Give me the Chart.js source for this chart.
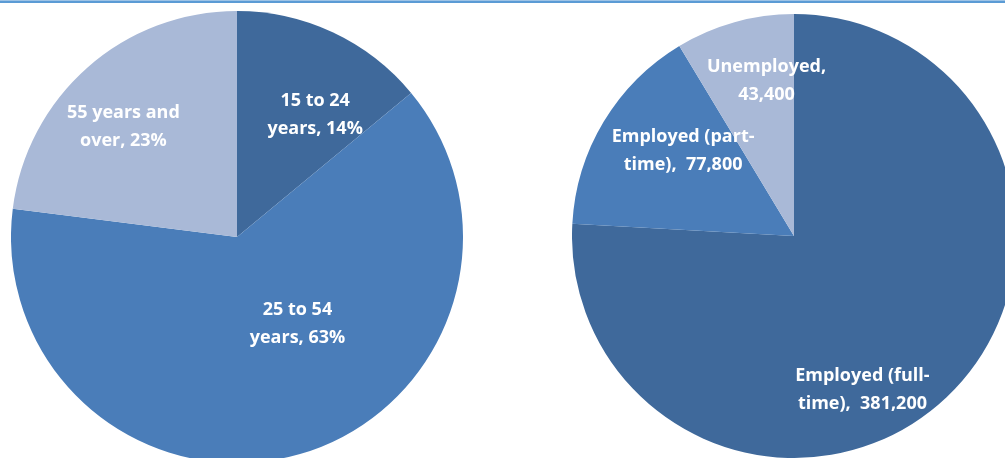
<!DOCTYPE html>
<html>
<head>
<meta charset="utf-8">
<script src="https://cdn.jsdelivr.net/npm/chart.js@4/dist/chart.umd.min.js"></script>
<style>
  html, body { margin: 0; padding: 0; width: 1005px; height: 458px; overflow: hidden; background: #fff; }
  .topline { position: absolute; left: 0; top: 0; width: 1005px; height: 1px; background: #9dc3e6; border-bottom: 2px solid #5b9bd5; }
  .box { position: absolute; }
</style>
</head>
<body>
<div class="topline"></div>
<div class="box" style="left:11px; top:11px; width:452px; height:452px;"><canvas id="ageChart"></canvas></div>
<div class="box" style="left:572px; top:14px; width:444px; height:444px;"><canvas id="workChart"></canvas></div>
<script>
// age groups (share of labour force, %)
const ageLabels = [['15 to 24', 'years, 14%'], ['25 to 54', 'years, 63%'], ['55 years and', 'over, 23%']]
const ageValues = [14, 63, 23]

// labour force status (persons)
const workLabels = [['Employed (full-', 'time),  381,200'], ['Employed (part-', 'time),  77,800'], ['Unemployed,', '43,400']]
const workValues = [381200, 77800, 43400]

const sliceColors = ['#3f699b', '#4a7db9', '#a9b9d7']

// label placement: [radius fraction, angle shift in degrees from slice middle]
const ageLabelPos = [[0.64, 7.5], [0.47, -18.5], [0.70, -4.5]]
const workLabelPos = [[0.76, 19.5], [0.63, 6.5], [0.71, 5.5]]

const sliceLabels = {
  id: 'sliceLabels',
  afterDatasetsDraw(chart, args, opts) {
    const ctx = chart.ctx
    const meta = chart.getDatasetMeta(0)
    ctx.save()
    ctx.fillStyle = '#fff'
    ctx.font = 'bold 18px "Open Sans"'
    ctx.textAlign = 'center'
    ctx.textBaseline = 'middle'
    meta.data.forEach((arc, i) => {
      const p = arc.getProps(['x', 'y', 'startAngle', 'endAngle', 'outerRadius'], true)
      const pos = opts.pos[i]
      const a = (p.startAngle + p.endAngle) / 2 + pos[1] * Math.PI / 180
      const r = p.outerRadius * pos[0]
      const cx = p.x + Math.cos(a) * r
      const cy = p.y + Math.sin(a) * r
      const lines = opts.labels[i]
      lines.forEach((t, j) => {
        ctx.fillText(t, cx, cy + (j - (lines.length - 1) / 2) * 28)
      })
    })
    ctx.restore()
  }
}

function drawPie(htmlId, labels, values, pos) {
  return new Chart(htmlId, {
    type: 'pie',
    data: {
      labels: labels.map(l => l.join(' ')),
      datasets: [{
        data: values,
        backgroundColor: sliceColors,
        borderWidth: 0
      }]
    },
    options: {
      responsive: true,
      maintainAspectRatio: false,
      animation: false,
      layout: { padding: 0 },
      plugins: {
        legend: { display: false },
        tooltip: { enabled: false },
        sliceLabels: { labels: labels, pos: pos }
      }
    },
    plugins: [sliceLabels]
  })
}

drawPie('ageChart', ageLabels, ageValues, ageLabelPos)
drawPie('workChart', workLabels, workValues, workLabelPos)
</script>
</body>
</html>
